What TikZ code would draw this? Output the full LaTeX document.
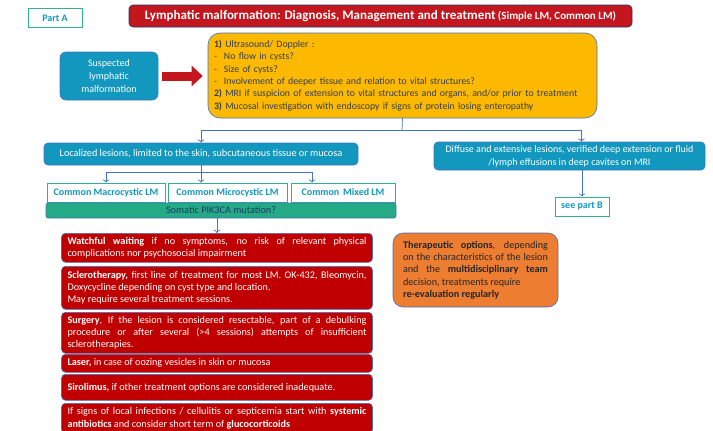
\documentclass[tikz,border=0pt]{standalone}
\usepackage{fontspec}
\setmainfont{Carlito}
\usetikzlibrary{arrows.meta}

\definecolor{lmteal}{RGB}{18,152,190}
\definecolor{lmyellow}{RGB}{252,185,0}
\definecolor{lmred}{RGB}{192,0,0}
\definecolor{lmtitle}{RGB}{196,22,30}
\definecolor{lmgreen}{RGB}{36,170,132}
\definecolor{lmframe}{RGB}{48,178,140}
\definecolor{lmblue}{RGB}{68,114,196}
\definecolor{lmorange}{RGB}{237,125,49}
\definecolor{lmslate}{RGB}{50,62,88}
\definecolor{lmdark}{RGB}{31,56,100}

\hyphenpenalty=10000
\exhyphenpenalty=10000

\begin{document}
\begin{tikzpicture}[x=1pt, y=-1pt,
    font=\fontsize{10.2}{12.3}\selectfont,
    box/.style={draw=lmblue, line width=0.6pt, rounded corners=4pt, inner sep=0pt},
    redbox/.style={box, fill=lmred, text=white, text width=299pt, inner xsep=6pt,
        minimum width=311pt, align=justify, anchor=north},
    framebox/.style={draw=lmframe, line width=0.8pt, fill=white, text=lmteal,
        font=\fontsize{10}{12}\selectfont\bfseries, inner sep=0pt, minimum height=19pt},
    conn/.style={draw=lmblue, line width=0.7pt}
]
    \useasboundingbox (0,0) rectangle (713,431);

    % header
    \node[framebox, minimum width=54pt] (partA) at (55,18) {Part A};
    \node[box, fill=lmtitle, draw=lmdark, text=white, minimum width=503pt, minimum height=22pt]
        (title) at (380.5,16)
        {{\fontsize{13}{15}\selectfont\bfseries Lymphatic malformation: Diagnosis, Management and treatment}
         {\fontsize{11}{13}\selectfont\bfseries (Simple LM, Common LM)}};

    % diagnosis
    \node[box, rounded corners=6pt, fill=lmteal, text=white, align=center,
        minimum width=98pt, minimum height=48pt,
        font=\fontsize{10}{13}\selectfont] (suspect) at (109,76)
        {Suspected\\lymphatic\\malformation};
    \node[box, rounded corners=12pt, fill=lmyellow, text=lmslate, align=left,
        text width=377pt, inner xsep=6pt, minimum height=85pt,
        font=\fontsize{9.8}{12.4}\selectfont] (diag) at (402.5,75.5)
        {\textbf{1)} Ultrasound/ Doppler :\\
         \makebox[10pt][l]{-}No flow in cysts?\\
         \makebox[10pt][l]{-}Size of cysts?\\
         \makebox[10pt][l]{-}Involvement of deeper tissue and relation to vital structures?\\
         \textbf{2)} MRI if suspicion of extension to vital structures and organs, and/or prior to treatment\\
         \textbf{3)} Mucosal investigation with endoscopy if signs of protein losing enteropathy};
    \draw[lmtitle, line width=9pt, -{Triangle[length=11pt,width=20pt]}]
        ([xshift=4pt]suspect.east) -- ([xshift=-5pt]diag.west |- suspect.east);

    % extent
    \node[box, fill=lmteal, text=white, minimum width=314pt, minimum height=22pt]
        (local) at (201,154)
        {Localized lesions, limited to the skin, subcutaneous tissue or mucosa};
    \node[box, fill=lmteal, text=white, align=center, minimum width=271pt, minimum height=28pt,
        font=\fontsize{10}{13}\selectfont] (diffuse) at (569.5,156)
        {Diffuse and extensive lesions, verified deep extension or fluid\\/lymph effusions in deep cavites on MRI};
    \coordinate (split) at (402,130);
    \draw[conn] (diag.south) -- (split);
    \draw[conn, ->] (split) -| (local.north);
    \draw[conn, ->] (split) -| ([xshift=12pt]diffuse.north);

    % types
    \node[framebox, minimum width=118pt] (macro) at (106,192.5) {Common Macrocystic LM};
    \node[framebox, minimum width=119pt] (micro) at (227.5,192.5) {Common Microcystic LM};
    \node[framebox, minimum width=104pt] (mixed) at (343,192.5) {Common\, Mixed LM};
    \node[box, rounded corners=2pt, fill=lmgreen, text=lmdark,
        minimum width=350pt, minimum height=15pt] (somatic) at (221,210.5)
        {Somatic PIK3CA mutation?};
    \coordinate (split2) at (201,172);
    \draw[conn] (local.south) -- (split2);
    \draw[conn, ->] (split2) -| (macro.north);
    \draw[conn, ->] (split2) -- (split2 |- micro.north);
    \draw[conn, ->] (split2) -| ([xshift=-31pt]mixed.north);

    \node[framebox, minimum width=54pt] (partB) at (582,206.5) {see part B};
    \draw[conn, ->] (partB.north |- diffuse.south) -- (partB.north);

    % treatments
    \node[redbox, minimum height=29pt] (watch) at (217,233)
        {\textbf{Watchful waiting} if no symptoms, no risk of relevant physical\linebreak
         complications nor psychosocial impairment};
    \node[redbox, minimum height=43pt] (sclero) at (217,266)
        {\textbf{Sclerotherapy,} first line of treatment for most LM. OK-432, Bleomycin,\linebreak
         Doxycycline depending on cyst type and location.\\May require several treatment sessions.};
    \node[redbox, minimum height=41pt] (surgery) at (217,312)
        {\textbf{Surgery}, If the lesion is considered resectable, part of a debulking\linebreak
         procedure or after several (>4 sessions) attempts of insufficient\linebreak
         sclerotherapies.};
    \node[redbox, minimum height=18pt] (laser) at (217,354)
        {\textbf{Laser,} in case of oozing vesicles in skin or mucosa};
    \node[redbox, minimum height=26pt] (siro) at (217,374)
        {\textbf{Sirolimus,} if other treatment options are considered inadequate.};
    \node[redbox, minimum height=30pt] (infect) at (217,403)
        {If signs of local infections / cellulitis or septicemia start with \textbf{systemic}\linebreak
         \textbf{antibiotics} and consider short term of \textbf{glucocorticoids}};
    \draw[conn, ->] (watch.north |- somatic.south) -- (watch.north);

    \node[box, rounded corners=10pt, fill=lmorange, text=black!85, text width=145pt,
        inner xsep=10pt, minimum height=74pt, align=justify] (options) at (475.5,270)
        {\textbf{Therapeutic options}, depending\linebreak on the characteristics of the lesion\linebreak
         and the \textbf{multidisciplinary team}\linebreak decision, treatments require\\
         \textbf{re-evaluation regularly}};
\end{tikzpicture}
\end{document}
